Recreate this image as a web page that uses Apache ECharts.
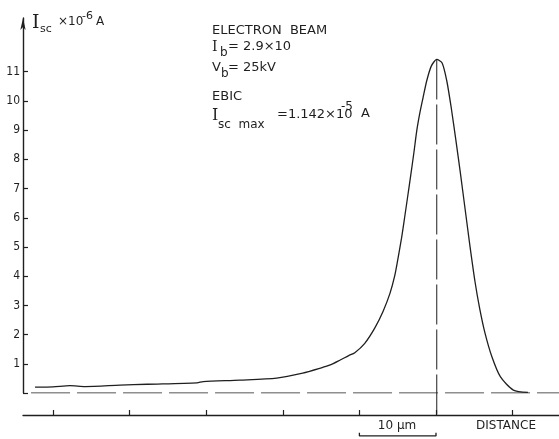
<!DOCTYPE html>
<html>
<head>
<meta charset="utf-8">
<script src="https://cdn.jsdelivr.net/npm/echarts@6/dist/echarts.min.js"></script>
<style>
  html, body { margin: 0; padding: 0; background: #fff; }
  #chart { width: 559px; height: 439px; }
</style>
</head>
<body>
<div id="chart"></div>
<script>
// EBIC line scan: short-circuit current (×10^-6 A) against distance (µm)
const distance = [-2.35, 0, 2.2, 4.2, 8.75, 12.3, 18.8, 19.6, 24.4, 29.2, 32.6, 34.9, 36.2, 37.5,
  38.6, 39.4, 40.7, 42.0, 43.1, 44.0, 44.6, 45.0, 45.5, 45.9, 46.3, 46.7, 47.1, 47.5, 47.9, 48.3, 48.8, 49.4, 50.1,
  50.8, 51.4, 52.0, 52.6, 53.2, 53.8, 54.4, 55.1, 55.7, 56.4, 57.3, 58.4, 60.1, 62.0];
const current = [0.2, 0.21, 0.25, 0.22, 0.27, 0.3, 0.35, 0.39, 0.44, 0.51, 0.68, 0.85, 0.96, 1.13,
  1.28, 1.38, 1.70, 2.22, 2.80, 3.42, 4.0, 4.55, 5.3, 6.0, 6.72, 7.45, 8.2, 9.0, 9.6, 10.1, 10.7, 11.2, 11.42,
  11.3, 10.7, 9.75, 8.65, 7.5, 6.3, 5.1, 3.8, 2.9, 2.05, 1.24, 0.56, 0.10, 0.02];
const peakDistance = 50.1;
const peakCurrent = 11.42;           // Isc max = 1.142×10^-5 A
const yTicks = [0, 1, 2, 3, 4, 5, 6, 7, 8, 9, 10, 11];
const yLabels = [1, 2, 3, 4, 5, 6, 7, 8, 9, 10, 11];
const xTicks = [0, 10, 20, 30, 40, 50, 60];
const scaleBar = [40, 50];          // 10 µm

const ink = '#1f1f1f';
const sans = 'DejaVu Sans';
const serif = 'DejaVu Serif';

const chart = echarts.init(document.getElementById('chart'), null, { renderer: 'canvas' });

function txt(x, y, text, size, align, family) {
  return {
    type: 'text', x: x, y: y, silent: true,
    style: { text: text, fill: ink, font: size + 'px "' + (family || sans) + '"',
      textAlign: align || 'left', textVerticalAlign: 'middle' }
  };
}

chart.setOption({
  animation: false,
  backgroundColor: '#fff',
  grid: { left: 23, right: 0, top: 18, bottom: 46, containLabel: false, outerBoundsMode: 'none' },
  xAxis: {
    type: 'value', min: -3.92, max: 66.06, offset: 22,
    axisLine: { onZero: false, lineStyle: { color: ink, width: 1.3 } },
    axisTick: { inside: true, length: 5, customValues: xTicks, lineStyle: { color: ink, width: 1.2 } },
    axisLabel: { show: false },
    splitLine: { show: false }
  },
  yAxis: {
    type: 'value', min: 0, max: 12.84,
    axisLine: { show: true, onZero: false, symbol: ['none', 'arrow'], symbolSize: [4, 12],
      lineStyle: { color: ink, width: 1.4 } },
    axisTick: { show: true, inside: true, length: 5, customValues: yTicks,
      lineStyle: { color: ink, width: 1.2 } },
    axisLabel: { customValues: yLabels, color: ink, fontFamily: 'DejaVu Sans Condensed',
      fontSize: 12, margin: 3 },
    splitLine: { show: false }
  },
  series: [
    {
      name: 'EBIC', type: 'line', smooth: 0.25, symbol: 'none',
      data: distance.map((d, i) => [d, current[i]]),
      lineStyle: { color: ink, width: 1.3 }
    },
    {
      name: 'baseline', type: 'line', symbol: 'none', silent: true,
      data: [[-2.87, 0], [66.06, 0]],
      lineStyle: { color: ink, width: 1, type: [39, 7] }
    },
    {
      name: 'peak', type: 'line', symbol: 'none', silent: true, clip: false,
      data: [[peakDistance, peakCurrent], [peakDistance, -0.75]],
      lineStyle: { color: ink, width: 1, type: [40, 5] }
    },
    {
      name: 'scale', type: 'line', symbol: 'none', silent: true, clip: false,
      data: [[scaleBar[0], -1.36], [scaleBar[0], -1.47], [scaleBar[1], -1.47], [scaleBar[1], -1.36]],
      lineStyle: { color: ink, width: 1.3 }
    }
  ],
  graphic: [
    // axis title
    txt(32, 23, 'I', 19, 'left', serif),
    txt(40, 29, 'sc', 11),
    txt(58, 22, '×10', 12),
    txt(82, 16, '-6', 11),
    txt(96, 22, 'A', 12),
    // beam annotation
    txt(212, 31, 'ELECTRON  BEAM', 13),
    txt(212, 47, 'I', 14, 'left', serif),
    txt(220, 53, 'b', 12),
    txt(228, 47, '= 2.9×10', 13),
    txt(212, 68, 'V', 13),
    txt(221, 74, 'b', 12),
    txt(228, 68, '= 25kV', 13),
    txt(212, 97, 'EBIC', 13),
    txt(212, 116, 'I', 16, 'left', serif),
    txt(218, 125, 'sc  max', 12),
    txt(277, 115, '=1.142×10', 13),
    txt(341, 107, '-5', 12),
    txt(361, 114, 'A', 13),
    // distance axis annotation
    txt(397, 426, '10 µm', 12, 'center'),
    txt(506, 426, 'DISTANCE', 12, 'center')
  ]
});
</script>
</body>
</html>
